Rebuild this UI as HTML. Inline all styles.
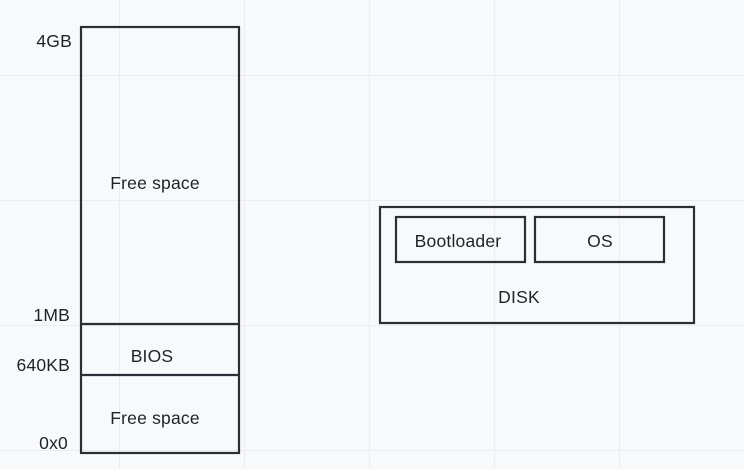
<!DOCTYPE html>
<html><head><meta charset="utf-8"><style>
html,body{margin:0;padding:0;background:#f8f9fb;}
svg{display:block;}
text{font-family:"Liberation Sans",sans-serif;font-size:17.5px;letter-spacing:0.2px;fill:#1e2229;}
</style></head><body>
<svg width="744" height="469" viewBox="0 0 744 469" xmlns="http://www.w3.org/2000/svg">
<rect width="744" height="469" fill="#f8f9fb"/>
<g stroke="#ebecef" stroke-width="1">
<line x1="119.5" y1="0" x2="119.5" y2="469"/>
<line x1="244.5" y1="0" x2="244.5" y2="469"/>
<line x1="369.5" y1="0" x2="369.5" y2="469"/>
<line x1="494.5" y1="0" x2="494.5" y2="469"/>
<line x1="619.5" y1="0" x2="619.5" y2="469"/>
<line x1="0" y1="75.5" x2="744" y2="75.5"/>
<line x1="0" y1="200.5" x2="744" y2="200.5"/>
<line x1="0" y1="325.5" x2="744" y2="325.5"/>
<line x1="0" y1="450.5" x2="744" y2="450.5"/>
</g>
<g fill="none" stroke="#2b2e34" stroke-width="2.2">
<rect x="81" y="27" width="158" height="426"/>
<line x1="81" y1="324" x2="239" y2="324"/>
<line x1="81" y1="375" x2="239" y2="375"/>
<rect x="380" y="207" width="314" height="116"/>
<rect x="396" y="217" width="129" height="45"/>
<rect x="535" y="217" width="129" height="45"/>
</g>
<text x="72" y="47" text-anchor="end">4GB</text>
<text x="70" y="321" text-anchor="end">1MB</text>
<text x="70" y="371" text-anchor="end">640KB</text>
<text x="68" y="449" text-anchor="end">0x0</text>
<text x="155" y="189" text-anchor="middle">Free space</text>
<text x="152" y="362" text-anchor="middle">BIOS</text>
<text x="155" y="424" text-anchor="middle">Free space</text>
<text x="458" y="247" text-anchor="middle">Bootloader</text>
<text x="600" y="247" text-anchor="middle">OS</text>
<text x="519" y="303" text-anchor="middle">DISK</text>
</svg>
</body></html>
